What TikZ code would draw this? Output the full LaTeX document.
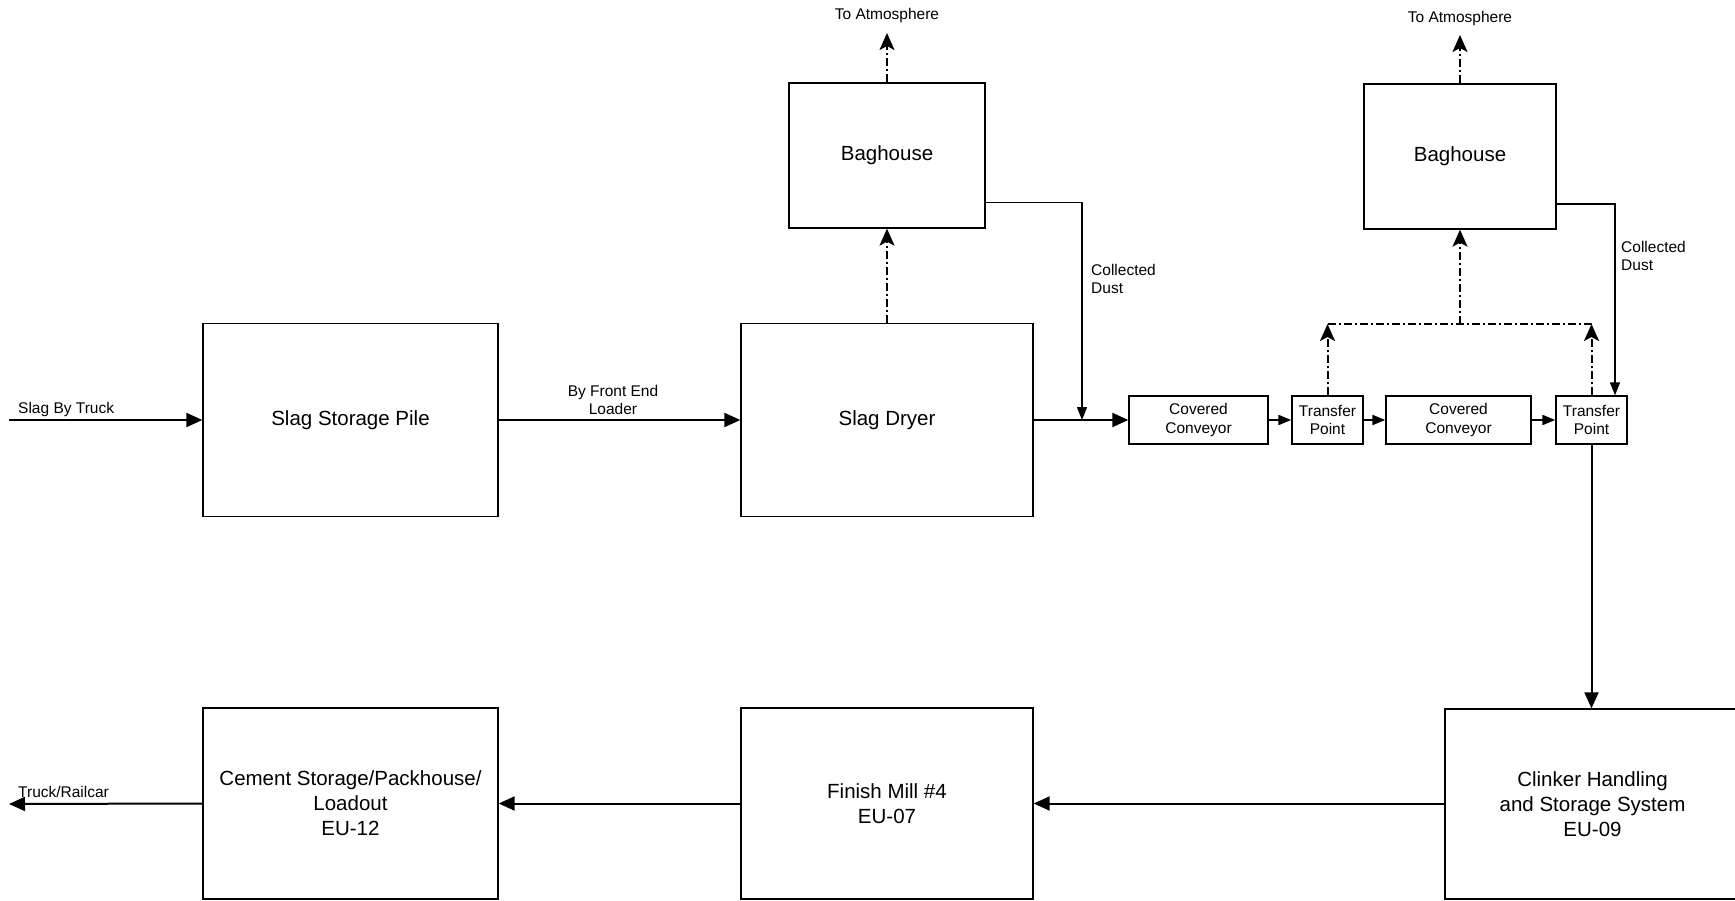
\documentclass[tikz,border=0pt]{standalone}
\usepackage{fontspec}
\setmainfont{Liberation Sans}
\usetikzlibrary{arrows.meta}
\newcommand\BigLbl{\fontsize{20.5}{25}\selectfont}
\newcommand\SmLbl{\fontsize{15.5}{18.5}\selectfont}
\tikzset{
  box/.style={draw, line width=1.3pt, inner sep=0pt, align=center, font=\BigLbl},
  sbox/.style={draw, line width=1.3pt, inner sep=0pt, align=center, font=\SmLbl, minimum height=48pt},
  lbl/.style={inner sep=0pt, align=left, font=\SmLbl},
  flow/.style={line width=2pt, -{Triangle[length=16pt,width=14pt]}},
  thinflow/.style={line width=1.3pt, -{Triangle[length=13pt,width=10pt]}},
  vent/.style={line width=2pt, dash pattern=on 8pt off 3pt on 2pt off 3pt},
  ventarrow/.style={vent, -{Stealth[length=17pt,width=15pt,inset=4pt]}},
}
\begin{document}
\begin{tikzpicture}[x=1pt,y=-1pt]
\useasboundingbox[fill=white] (0,0) rectangle (1735,901);
% main boxes
\node[box, minimum width=295pt, minimum height=193pt] (pile) at (350.5,420) {Slag Storage Pile};
\node[box, minimum width=292pt, minimum height=193pt] (dryer) at (887,420) {Slag Dryer};
\node[box, minimum width=196pt, minimum height=145pt] (bag1) at (887,155.5) {Baghouse};
\node[box, minimum width=192pt, minimum height=145pt] (bag2) at (1460,156.5) {Baghouse};
\node[sbox, minimum width=139pt] (cc1) at (1198.5,420) {Covered\\Conveyor};
\node[sbox, minimum width=71pt] (tp1) at (1327.5,420) {Transfer\\Point};
\node[sbox, minimum width=145pt] (cc2) at (1458.5,420) {Covered\\Conveyor};
\node[sbox, minimum width=71pt] (tp2) at (1591.5,420) {Transfer\\Point};
\node[box, minimum width=295pt, minimum height=191pt] (cement) at (350.5,803.5) {Cement Storage/Packhouse/\\Loadout\\EU-12};
\node[box, minimum width=292pt, minimum height=191pt] (mill) at (887,803.5) {Finish Mill \#4\\EU-07};
\node[box, minimum width=295pt, minimum height=190pt] (clinker) at (1592.5,804) {Clinker Handling\\and Storage System\\EU-09};
% labels
\node[lbl, anchor=base west] (lt) at (18,413) {Slag By Truck};
\node[lbl, anchor=south, align=center] (lf) at (613,415) {By Front End\\Loader};
\node[lbl, anchor=base west] (lr) at (18,797) {Truck/Railcar};
\node[lbl] (atm1) at (887,15) {To Atmosphere};
\node[lbl] (atm2) at (1460,18) {To Atmosphere};
\node[lbl, anchor=north west] (cd1) at (1091,264) {Collected\\Dust};
\node[lbl, anchor=north west] (cd2) at (1621,241) {Collected\\Dust};
% coordinates
\coordinate (tin) at (9,420);
\coordinate (tout) at (9,804);
\coordinate (a1) at (887,33);
\coordinate (a2) at (1460,35);
\coordinate (d1) at (1082,202.5);
\coordinate (d2) at (1615,204);
\coordinate (h1) at (1327.5,324);
\coordinate (h2) at (1591.5,324);
% main flow
\draw[flow] (tin) -- (pile.west);
\draw[flow] (pile.east) -- (dryer.west);
\draw[flow] (dryer.east) -- (cc1.west);
\draw[thinflow, line width=2pt] (cc1.east) -- (tp1.west);
\draw[thinflow, line width=2pt] (tp1.east) -- (cc2.west);
\draw[thinflow, line width=2pt] (cc2.east) -- (tp2.west);
\draw[flow] (tp2.south) -- (tp2.south |- clinker.north);
\draw[flow] (clinker.west |- mill.east) -- (mill.east);
\draw[flow] (mill.west) -- (cement.east);
\draw[flow] (cement.west) -- (tout);
% collected dust
\draw[thinflow] (bag1.east |- d1) -- (d1) -- (d1 |- dryer.east);
\draw[thinflow] (bag2.east |- d2) -- (d2) -- (d2 |- tp2.north);
% vents
\draw[ventarrow] (dryer.north) -- (bag1.south);
\draw[ventarrow] (bag1.north) -- (a1);
\draw[ventarrow] (bag2.north) -- (a2);
\draw[ventarrow] (tp1.north) -- (h1);
\draw[ventarrow] (tp2.north) -- (h2);
\draw[vent] (h1) -- (h2);
\draw[ventarrow] (bag2.south |- h1) -- (bag2.south);
\end{tikzpicture}
\end{document}
